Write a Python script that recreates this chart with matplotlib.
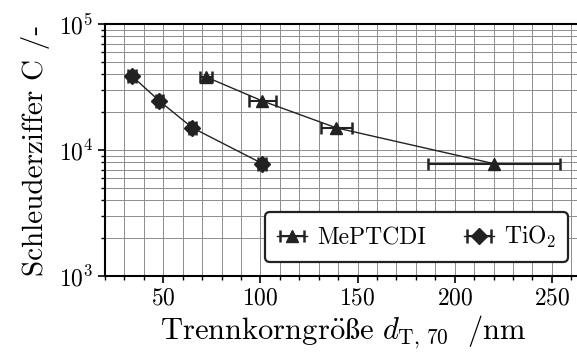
import matplotlib
matplotlib.use("Agg")
import matplotlib.pyplot as plt
from matplotlib.ticker import LogLocator, MultipleLocator

plt.rcParams["font.family"] = ["cmr10", "DejaVu Serif"]
plt.rcParams["mathtext.fontset"] = "cm"
plt.rcParams["axes.formatter.use_mathtext"] = True

# Trennkorngröße (nm), Fehler und Schleuderziffer
mep_x = [72, 101, 139, 220]
mep_xerr = [3, 7, 8, 34]
mep_c = [3.8e4, 2.45e4, 1.5e4, 7.8e3]

tio_x = [34, 48, 65, 101]
tio_xerr = [2, 2, 2, 2]
tio_c = [3.85e4, 2.45e4, 1.5e4, 7.8e3]

fig = plt.figure(figsize=(5.77, 3.54), dpi=100)
ax = fig.add_axes([105 / 577, 78 / 354, 476 / 577, 252 / 354])

ax.errorbar(mep_x, mep_c, xerr=mep_xerr, fmt="-^", color="#222222",
            mfc="#222222", mec="#222222", ms=8, lw=1.0, elinewidth=1.5,
            capsize=4, capthick=1.8, label="MePTCDI", zorder=3)
ax.errorbar(tio_x, tio_c, xerr=tio_xerr,
            fmt="-D", color="#222222", mfc="#222222", mec="#222222", ms=8,
            lw=1.0, elinewidth=1.5, capsize=5, capthick=1.8,
            label="TiO$_2$", zorder=3)

ax.set_yscale("log")
ax.set_xlim(20, 265)
ax.set_ylim(1e3, 1e5)
ax.xaxis.set_major_locator(MultipleLocator(50))
ax.xaxis.set_minor_locator(MultipleLocator(10))
ax.yaxis.set_major_locator(LogLocator(base=10))
ax.yaxis.set_minor_locator(LogLocator(base=10, subs=range(2, 10)))

ax.grid(which="both", color="0.55", lw=0.7)
ax.set_axisbelow(True)
for s in ax.spines.values():
    s.set_linewidth(1.5)
ax.tick_params(which="major", direction="out", length=5, width=1.2,
               labelsize=17)
ax.tick_params(which="minor", direction="out", length=3, width=1.0)

ax.set_xlabel(r"$\mathrm{Trennkorngr\ddot{o}\ss e}\ d_{\mathrm{T,\,70}}\ \ /\mathrm{nm}$",
              fontsize=22, labelpad=3)
ax.set_ylabel("Schleuderziffer C /-", fontsize=21, labelpad=6)

leg = ax.legend(loc="lower right", ncol=2, fontsize=17,
                bbox_to_anchor=(568 / 577, 92 / 354),
                bbox_transform=fig.transFigure, borderaxespad=0,
                fancybox=True, framealpha=1, edgecolor="#222222",
                handlelength=1.3, handletextpad=0.4, columnspacing=1.6,
                borderpad=0.5)
leg.get_frame().set_linewidth(1.6)

fig.savefig("out.png", dpi=100)
